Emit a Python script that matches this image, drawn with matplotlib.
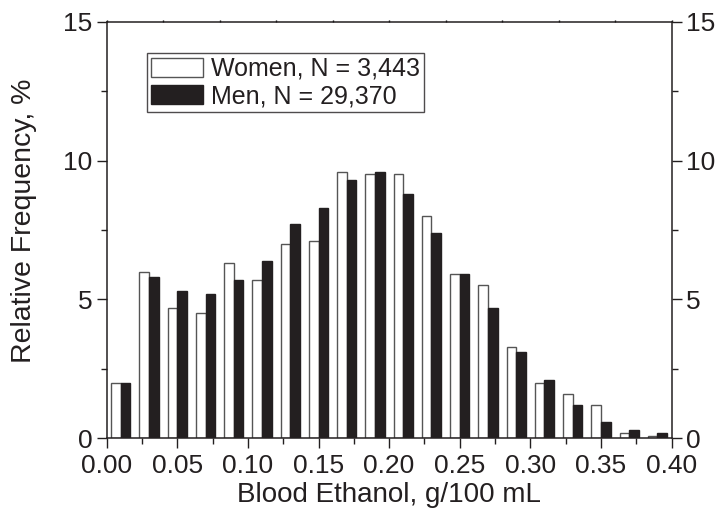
import numpy as np
import matplotlib
matplotlib.use("Agg")
import matplotlib.pyplot as plt
from matplotlib.ticker import MultipleLocator

plt.rcParams['font.family'] = ['Liberation Sans', 'DejaVu Sans']

# bin starts (g/100 mL), bins 0.02 wide
bin_starts = [0.00, 0.02, 0.04, 0.06, 0.08, 0.10, 0.12, 0.14, 0.16, 0.18,
              0.20, 0.22, 0.24, 0.26, 0.28, 0.30, 0.32, 0.34, 0.36, 0.38]
women = [2.0, 6.0, 4.7, 4.5, 6.3, 5.7, 7.0, 7.1, 9.6, 9.5,
         9.5, 8.0, 5.9, 5.5, 3.3, 2.0, 1.6, 1.2, 0.2, 0.07]
men = [2.0, 5.8, 5.3, 5.2, 5.7, 6.4, 7.7, 8.3, 9.3, 9.6,
       8.8, 7.4, 5.9, 4.7, 3.1, 2.1, 1.2, 0.6, 0.3, 0.2]
women_label = "Women, N = 3,443"
men_label = "Men, N = 29,370"

bin_w = 0.02
bar_w = 0.0068
centers = np.array(bin_starts) + bin_w / 2

fig = plt.figure(figsize=(7.24, 5.15), dpi=100)
ax = fig.add_axes([0.1474, 0.149, 0.7801, 0.809])

ax.bar(centers - bar_w / 2, women, width=bar_w, color='white',
       edgecolor='#555555', linewidth=1.0, label=women_label)
ax.bar(centers + bar_w / 2, men, width=bar_w, color='#231f20',
       edgecolor='#231f20', linewidth=1.0, label=men_label)

ax.set_xlim(0, 0.40)
ax.set_ylim(0, 15)
ax.xaxis.set_major_locator(MultipleLocator(0.05))
ax.xaxis.set_minor_locator(MultipleLocator(0.025))
ax.yaxis.set_major_locator(MultipleLocator(5))
ax.yaxis.set_minor_locator(MultipleLocator(2.5))
ax.xaxis.set_major_formatter(plt.FormatStrFormatter('%.2f'))

ax.tick_params(which='major', direction='out', length=7, width=1,
               labelsize=19, left=True, right=True, labelright=True,
               bottom=True, top=False, colors='#231f20')
ax.tick_params(which='minor', direction='out', length=4, width=1,
               left=True, right=True, bottom=True, top=False,
               colors='#231f20')
ax.tick_params(axis='x', pad=4)

# tiny tick marks on the top spine
top = ax.secondary_xaxis('top')
top.xaxis.set_major_locator(MultipleLocator(0.04))
top.tick_params(direction='out', length=1.5, width=1, labeltop=False)
top.spines['top'].set_visible(False)

for s in ax.spines.values():
    s.set_linewidth(1.1)
    s.set_color('#231f20')

ax.set_xlabel("Blood Ethanol, g/100 mL", fontsize=20, color='#231f20', labelpad=3)
ax.set_ylabel("Relative Frequency, %", fontsize=20.5, color='#231f20')
ax.yaxis.set_label_coords(-0.123, 0.521)

leg = ax.legend(loc='upper left', bbox_to_anchor=(0.0714, 0.9246), fontsize=18,
                frameon=True, fancybox=False, handlelength=2.1, handleheight=0.8,
                handletextpad=0.32, borderpad=0.15, labelspacing=0.15,
                borderaxespad=0)
leg.get_frame().set_edgecolor('#231f20')
leg.get_frame().set_linewidth(1.0)
for t in leg.get_texts():
    t.set_color('#231f20')

fig.savefig("out.png", dpi=100)
